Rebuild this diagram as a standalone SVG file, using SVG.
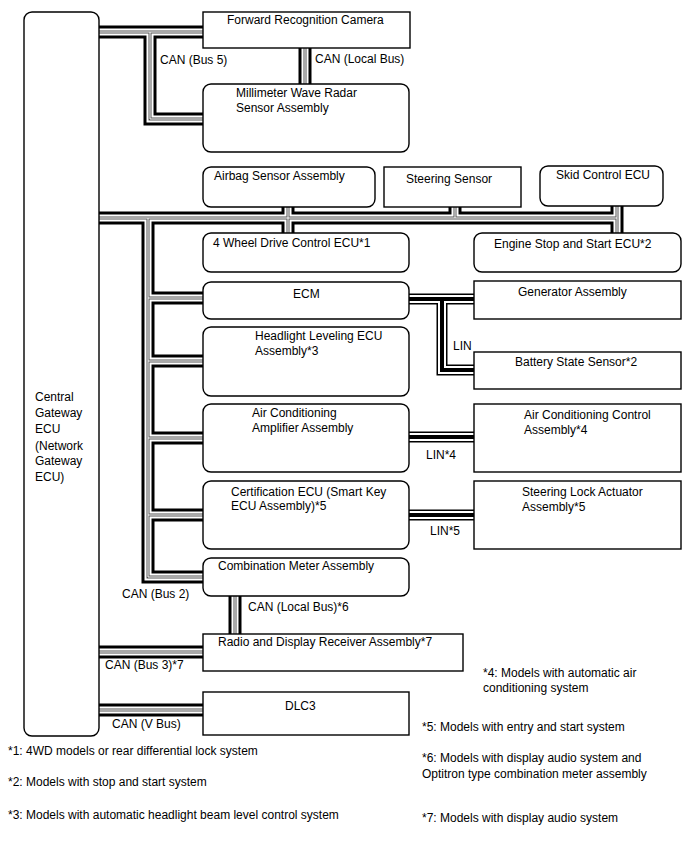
<svg xmlns="http://www.w3.org/2000/svg" width="688" height="852" viewBox="0 0 688 852">
<style>
text{font-family:"Liberation Sans",Arial,sans-serif;font-size:12px;fill:#000}
.b{fill:#fff;stroke:#000;stroke-width:1.4}
.c{fill:none;stroke-linejoin:miter;stroke-linecap:butt}
.k1{stroke:#000;stroke-width:13}
.w1{stroke:#fff;stroke-width:7}
.g1{stroke:#555;stroke-width:3}
.w2{stroke:#fff;stroke-width:1}
.lk{stroke:#000;stroke-width:11}
.lw{stroke:#fff;stroke-width:8}
.lc{stroke:#000;stroke-width:4}
</style>
<rect width="688" height="852" fill="#fff"/>
<g id="connectors" class="c">
  <g class="k1">
    <path d="M99,32H203M150,32V119H203"/>
    <path d="M305,48V84"/>
    <path d="M99,218H617M288,207V233M455,207V218M617,206V233"/>
    <path d="M148,218V577H203M148,298H203M148,361H203M148,438H203M148,515H203"/>
    <path d="M235,596V634"/>
    <path d="M99,652H203"/>
    <path d="M99,710H203"/>
  </g>
  <g class="w1">
    <path d="M99,32H203M150,32V119H203"/>
    <path d="M305,48V84"/>
    <path d="M99,218H617M288,207V233M455,207V218M617,206V233"/>
    <path d="M148,218V577H203M148,298H203M148,361H203M148,438H203M148,515H203"/>
    <path d="M235,596V634"/>
    <path d="M99,652H203"/>
    <path d="M99,710H203"/>
  </g>
  <g class="g1">
    <path d="M99,32H203M150,32V119H203"/>
    <path d="M305,48V84"/>
    <path d="M99,218H617M288,207V233M455,207V218M617,206V233"/>
    <path d="M148,218V577H203M148,298H203M148,361H203M148,438H203M148,515H203"/>
    <path d="M235,596V634"/>
    <path d="M99,652H203"/>
    <path d="M99,710H203"/>
  </g>
  <g class="w2">
    <path d="M99,32H203M150,32V119H203"/>
    <path d="M305,48V84"/>
    <path d="M99,218H617M288,207V233M455,207V218M617,206V233"/>
    <path d="M148,218V577H203M148,298H203M148,361H203M148,438H203M148,515H203"/>
    <path d="M235,596V634"/>
    <path d="M99,652H203"/>
    <path d="M99,710H203"/>
  </g>
  <g class="lk">
    <path d="M409,299H474M442,299V370H474"/>
    <path d="M409,437H474"/>
    <path d="M409,515H474"/>
  </g>
  <g class="lw">
    <path d="M409,299H474M442,299V370H474"/>
    <path d="M409,437H474"/>
    <path d="M409,515H474"/>
  </g>
  <g class="lc">
    <path d="M409,299H474M442,299V370H474"/>
    <path d="M409,437H474"/>
    <path d="M409,515H474"/>
  </g>
</g>
<g id="labels">
  <text x="160" y="64">CAN (Bus 5)</text>
  <text x="315" y="63">CAN (Local Bus)</text>
  <text x="453" y="350">LIN</text>
  <text x="426" y="459">LIN*4</text>
  <text x="430" y="535">LIN*5</text>
  <text x="122" y="598">CAN (Bus 2)</text>
  <text x="248" y="611">CAN (Local Bus)*6</text>
  <text x="105" y="669">CAN (Bus 3)*7</text>
  <text x="112" y="728">CAN (V Bus)</text>
</g>
<g id="cgw"><rect class="b" x="24" y="12" width="75" height="724" rx="8"/>
  <text x="35" y="401">Central</text><text x="35" y="417">Gateway</text><text x="35" y="433">ECU</text><text x="35" y="450">(Network</text><text x="35" y="465">Gateway</text><text x="35" y="481">ECU)</text></g>
<g id="camera"><rect class="b" x="203" y="12" width="207" height="36"/><text x="227" y="24">Forward Recognition Camera</text></g>
<g id="radar"><rect class="b" x="203" y="84" width="206" height="68" rx="8"/><text x="236" y="97">Millimeter Wave Radar</text><text x="236" y="112">Sensor Assembly</text></g>
<g id="airbag"><rect class="b" x="203" y="167" width="172" height="40" rx="8"/><text x="214" y="180">Airbag Sensor Assembly</text></g>
<g id="steering-sensor"><rect class="b" x="384" y="167" width="137" height="40"/><text x="406" y="183">Steering Sensor</text></g>
<g id="skid"><rect class="b" x="540" y="166" width="123" height="40" rx="8"/><text x="556" y="179">Skid Control ECU</text></g>
<g id="fourwd"><rect class="b" x="203" y="233" width="206" height="39" rx="8"/><text x="213" y="247">4 Wheel Drive Control ECU*1</text></g>
<g id="engine-stop"><rect class="b" x="474" y="233" width="207" height="39" rx="8"/><text x="494" y="248">Engine Stop and Start ECU*2</text></g>
<g id="ecm"><rect class="b" x="203" y="282" width="206" height="37" rx="8"/><text x="293" y="298">ECM</text></g>
<g id="generator"><rect class="b" x="474" y="281" width="207" height="38"/><text x="518" y="296">Generator Assembly</text></g>
<g id="headlight"><rect class="b" x="203" y="327" width="206" height="69" rx="8"/><text x="255" y="340">Headlight Leveling ECU</text><text x="255" y="355">Assembly*3</text></g>
<g id="battery"><rect class="b" x="474" y="352" width="207" height="37"/><text x="515" y="366">Battery State Sensor*2</text></g>
<g id="ac-amp"><rect class="b" x="203" y="404" width="206" height="68" rx="8"/><text x="252" y="417">Air Conditioning</text><text x="252" y="432">Amplifier Assembly</text></g>
<g id="ac-control"><rect class="b" x="474" y="404" width="207" height="68"/><text x="524" y="419">Air Conditioning Control</text><text x="524" y="434">Assembly*4</text></g>
<g id="certification"><rect class="b" x="203" y="481" width="206" height="68" rx="8"/><text x="231" y="496">Certification ECU (Smart Key</text><text x="231" y="510">ECU Assembly)*5</text></g>
<g id="steering-lock"><rect class="b" x="474" y="481" width="207" height="68"/><text x="522" y="496">Steering Lock Actuator</text><text x="522" y="511">Assembly*5</text></g>
<g id="combination-meter"><rect class="b" x="203" y="558" width="206" height="38" rx="8"/><text x="218" y="570">Combination Meter Assembly</text></g>
<g id="radio"><rect class="b" x="203" y="634" width="260" height="37"/><text x="218" y="646">Radio and Display Receiver Assembly*7</text></g>
<g id="dlc3"><rect class="b" x="203" y="692" width="206" height="43"/><text x="285" y="710">DLC3</text></g>
<g id="notes">
  <text x="483" y="677">*4: Models with automatic air</text>
  <text x="483" y="692">conditioning system</text>
  <text x="422" y="731">*5: Models with entry and start system</text>
  <text x="8" y="755">*1: 4WD models or rear differential lock system</text>
  <text x="422" y="762">*6: Models with display audio system and</text>
  <text x="422" y="778">Optitron type combination meter assembly</text>
  <text x="8" y="786">*2: Models with stop and start system</text>
  <text x="8" y="819">*3: Models with automatic headlight beam level control system</text>
  <text x="422" y="822">*7: Models with display audio system</text>
</g>
</svg>
